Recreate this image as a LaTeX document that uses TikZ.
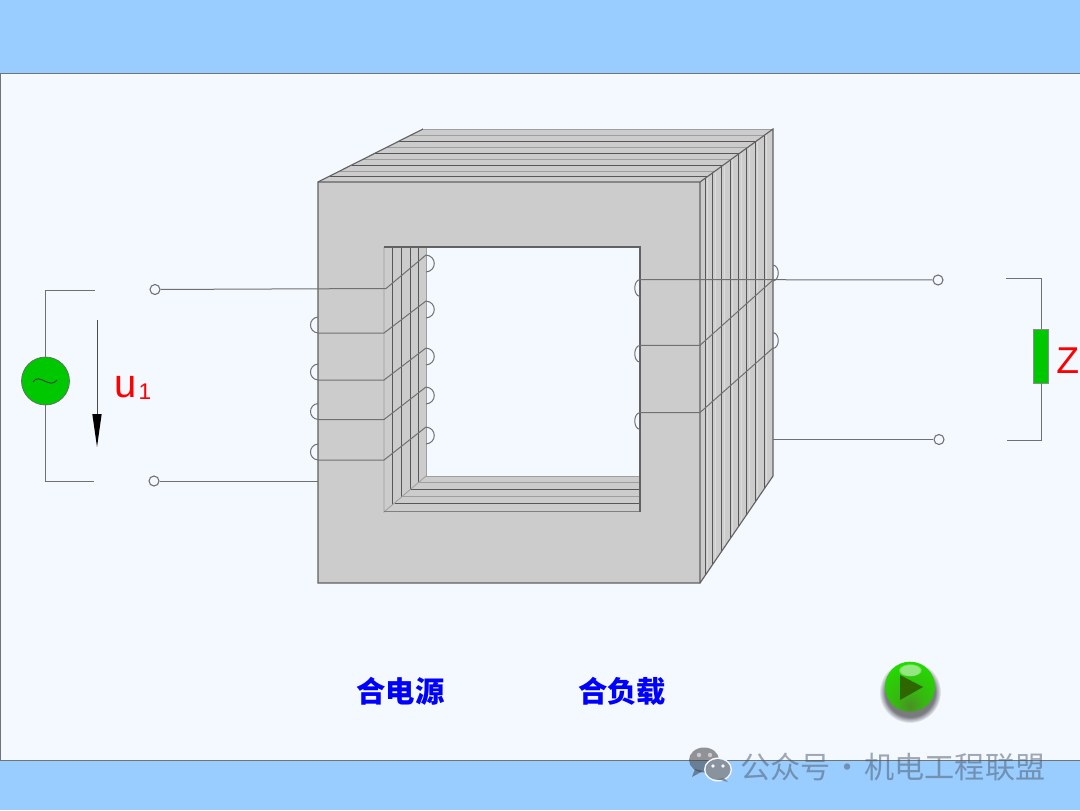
\documentclass[tikz,border=0pt]{standalone}
\usepackage{fontspec}
\setmainfont{Liberation Sans}
\newfontfamily\cjk{Noto Sans CJK SC}
\usetikzlibrary{fadings}
\usetikzlibrary{positioning}

\definecolor{bandblue}{HTML}{99CCFF}
\definecolor{panelblue}{HTML}{F4F8FF}
\definecolor{coregray}{HTML}{CCCCCC}
\definecolor{wiregray}{HTML}{707070}
\definecolor{srcgreen}{HTML}{00C800}
\definecolor{markgray}{HTML}{4A5866}
\definecolor{playdark}{HTML}{2E6600}

\pgfdeclareradialshading{playball}{\pgfpoint{0bp}{-20bp}}{color(0bp)=(rgb:red,0.5;green,0.95;blue,0.25); color(14bp)=(rgb:red,0.25;green,0.85;blue,0.08); color(38bp)=(rgb:red,0.1;green,0.62;blue,0); color(56bp)=(rgb:red,0.1;green,0.45;blue,0); color(100bp)=(rgb:red,0.1;green,0.35;blue,0)}

\tikzset{
	wire/.style={wiregray, line width=0.75pt},
	edgeline/.style={black!62, line width=0.85pt},
	lamdark/.style={black!66, line width=0.75pt},
	lamlight/.style={black!38, line width=0.6pt},
	terminal/.style={circle, draw=wiregray, fill=panelblue, line width=0.8pt, minimum size=7.5pt, inner sep=0pt},
	button/.style={text=blue, font=\cjk\bfseries\fontsize{22}{22}\selectfont},
	redlabel/.style={text=red, inner sep=0pt},
}

\begin{document}
\begin{tikzpicture}[x=0.75pt,y=-0.75pt]
		
		\useasboundingbox (0,0) rectangle (1080,810);
		
		\fill[bandblue] (0,0) rectangle (1080,810);
		\fill[panelblue] (0,74) rectangle (1080,761);
		\draw[black!55, line width=0.8pt] (1080,73.5) -- (0.7,73.5) -- (0.7,760.5) -- (1080,760.5);
		
		\begin{scope}
			
			\fill[coregray] (318,182) -- (423,129) -- (773,129) -- (773,476) -- (700,583) -- (318,583) -- cycle;
			\fill[panelblue] (426,247) rectangle (640,476);
			
			\foreach \yy in {135,147.3,159.3,171}
				\draw[lamlight] ({318+(182-\yy)*105/53},\yy) -- ({700+(182-\yy)*73/53},\yy);
			\foreach \yy in {141.7,153.3,165,176}
				\draw[lamdark] ({318+(182-\yy)*105/53},\yy) -- ({700+(182-\yy)*73/53},\yy);
			
			\foreach \xx in {705.5,712.7,721.7,730,738.7,746.7,755,764}{
				\draw[lamdark] (\xx,{182-(\xx-700)*53/73}) -- (\xx,{583-(\xx-700)*107/73});
				\draw[black!14, line width=0.5pt] ({\xx+2.2},{182-(\xx+2.2-700)*53/73}) -- ({\xx+2.2},{583-(\xx+2.2-700)*107/73});
			}
			
			\foreach \xx in {392.7,401.7,410,418.7}
				\draw[lamdark] (\xx,247) -- (\xx,{512-(\xx-384)*36/42});
			\foreach \yy in {482.7,496.7}
				\draw[lamlight] ({384+(512-\yy)*42/36},\yy) -- (640,\yy);
			\foreach \yy in {489,503}
				\draw[lamdark] ({384+(512-\yy)*42/36},\yy) -- (640,\yy);
			
			\draw[lamlight] (426,247) -- (426,476) -- (640,476);
			\draw[lamlight] (384,247) -- (384,512) -- (426,476);
			\draw[lamlight, black!50] (384,511.5) -- (640,511.5);
			\draw[edgeline] (384,247) -- (640,247) -- (640,512);
			
			\draw[edgeline] (423,129) -- (318,182) -- (318,583) -- (700,583) -- (700,182);
			\draw[lamlight] (423,129) -- (773,129);
			\draw[edgeline] (318,182) -- (700,182) -- (773,129) -- (773,476) -- (700,583);
		\end{scope}
		
		\node[terminal] (pritop) at (155,289.5) {};
		\node[terminal] (pribot) at (154,481) {};
		\node[terminal] (sectop) at (938,280) {};
		\node[terminal] (secbot) at (939,439.5) {};
		
		\coordinate (pribend) at (386,288.5);
		\coordinate (priend) at (426,255);
		\coordinate (coreleft) at (318,481);
		\coordinate (coreright) at (773,439.5);
		\coordinate (secstart) at (640,279.5);
		
		\draw[wire] (pritop) -- (pribend) -- (priend);
		\draw[wire] (pribot) -- (coreleft);
		\draw[wire] (secstart) -- (sectop);
		\draw[wire] (coreright) -- (secbot);
		
		\foreach \yy/\zz in {333/301,380/348,419.5/387,460/427}{
			\draw[wire] (318,\yy) -- (384,\yy) -- (426,\zz);
			\draw[wire] (318,\yy) .. controls (308,{\yy-1}) and (308,{\yy-15}) .. (318,{\yy-16});
		}
		\foreach \zz in {255,301,348,387,427}
			\draw[wire] (426,\zz) .. controls (437,{\zz+1}) and (437,{\zz+16}) .. (426,{\zz+17});
		
		\draw[wire] (640,345.3) -- (700,345.3) -- (773,280);
		\draw[wire] (640,412.5) -- (700,412.5) -- (773,348);
		\foreach \yy in {279.5,345.3,412.5}
			\draw[wire] (640,\yy) .. controls (633,{\yy+1}) and (633,{\yy+16}) .. (640,{\yy+17});
		\foreach \yy in {265,332.5}
			\draw[wire] (773,\yy) .. controls (780,{\yy+1}) and (780,{\yy+15}) .. (773,{\yy+16});
		
		\node[circle, fill=srcgreen, draw=black!60, line width=0.5pt, minimum size=36pt, inner sep=0pt] (source) at (45.5,381) {};
		\coordinate (srctop) at (95,290);
		\coordinate (srcbot) at (94,481);
		\draw[wire] (source) |- (srctop);
		\draw[wire] (source) |- (srcbot);
		\draw[black!75, line width=0.7pt] (33,382) .. controls (39,372) and (50,390) .. (57,380);
		
		\coordinate (uarrowtop) at (97,320);
		\coordinate (uarrowbot) at (97,414);
		\draw[black!70, line width=0.7pt] (uarrowtop) -- (uarrowbot);
		\fill[black] (92.3,414) -- (101.7,414) -- (97,447) -- cycle;
		
		\node[redlabel, anchor=base west] (ulabel) at (114.5,397) {\fontsize{30}{30}\selectfont u\hspace{1.2pt}\raisebox{-1.5pt}{\fontsize{17}{17}\selectfont 1}};
		
		\node[fill=srcgreen, draw=black!45, line width=0.5pt, minimum width=11.25pt, minimum height=40.5pt, inner sep=0pt] (load) at (1041,356) {};
		\coordinate (loadtop) at (1006,278.5);
		\coordinate (loadbot) at (1007,440.5);
		\draw[wire] (load) |- (loadtop);
		\draw[wire] (load) |- (loadbot);
		\node[redlabel, anchor=base west] (zlabel) at (1056,373) {\fontsize{28}{28}\selectfont Z};
		
		\node[button] (closesrc) at (400.5,691) {合电源};
		\node[button] (closeload) at (622,691) {合负载};
		
		\fill[black, opacity=0.5, path fading=circle with fuzzy edge 20 percent] (910,692) circle (31);
		\shade[shading=playball] (910,686.7) circle (25);
		\fill[white, opacity=0.5, path fading=circle with fuzzy edge 20 percent] (910,670) ellipse (12 and 6.5);
		\fill[playdark] (900,675) -- (923,687) -- (900,700) -- cycle;
		
		\begin{scope}[opacity=0.55]
			\fill[black!75] (704,760) ellipse (15 and 12.5);
			\fill[black!75] (695,769) -- (692,777) -- (703,771) -- cycle;
			\fill[panelblue] (699,755) circle (2.2);
			\fill[panelblue] (710,755) circle (2.2);
		\end{scope}
		\fill[panelblue] (718,769.5) ellipse (14 and 12);
		\begin{scope}[opacity=0.7]
			\fill[markgray!90] (718,769.5) ellipse (12.5 and 10.5);
			\fill[markgray!90] (724,778) -- (728,782) -- (717,779) -- cycle;
		\end{scope}
		\fill[panelblue] (713,766) circle (1.8);
		\fill[panelblue] (723,766) circle (1.8);
		
		\node[opacity=0.5, text=markgray, font=\cjk\fontsize{22.6}{22.6}\selectfont, anchor=west, inner sep=0pt] (mark) at (740,767) {公众号\hspace{1.4pt}·\hspace{1.4pt}机电工程联盟};
		
	\end{tikzpicture}
\end{document}
